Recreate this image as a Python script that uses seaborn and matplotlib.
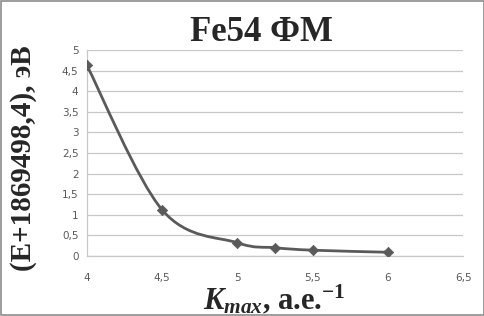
import matplotlib
matplotlib.use('Agg')

import numpy as np
import matplotlib.pyplot as plt
from matplotlib.path import Path
from matplotlib.patches import PathPatch, Rectangle
import seaborn as sns

# ==============================================================================
# 資料
# ==============================================================================
k_max = [4.0, 4.5, 5.0, 5.25, 5.5, 6.0]
energy = [4.63, 1.12, 0.32, 0.20, 0.14, 0.09]

x_ticks = [4, 4.5, 5, 5.5, 6, 6.5]
x_tick_labels = ['4', '4,5', '5', '5,5', '6', '6,5']
y_ticks = [0, 0.5, 1, 1.5, 2, 2.5, 3, 3.5, 4, 4.5, 5]
y_tick_labels = ['0', '0,5', '1', '1,5', '2', '2,5', '3', '3,5', '4', '4,5', '5']

title = 'Fe54 ФМ'
y_label = '(E+1869498,4), эВ'
x_label = r'$\mathit{K}_{\mathit{max}}$, а.е.$^{\mathbf{-1}}$'

# ==============================================================================
# 樣式
# ==============================================================================
sns.set_theme(style="whitegrid")
plt.rcParams['font.family'] = ['DejaVu Sans']
plt.rcParams['mathtext.fontset'] = 'custom'
plt.rcParams['mathtext.rm'] = 'Liberation Serif:bold'
plt.rcParams['mathtext.it'] = 'Liberation Serif:italic:bold'
plt.rcParams['mathtext.bf'] = 'Liberation Serif:bold'

line_color = '#5a5a5a'

fig = plt.figure(figsize=(4.85, 3.16), dpi=100)
ax = fig.add_axes([0.179, 0.190, 0.776, 0.652])

# 平滑曲線 (Excel 式 Bezier)
pts = np.column_stack([k_max, energy])
verts = [pts[0]]
codes = [Path.MOVETO]
n = len(pts)
for i in range(n - 1):
    p0 = pts[max(i - 1, 0)]
    p1 = pts[i]
    p2 = pts[i + 1]
    p3 = pts[min(i + 2, n - 1)]
    c1 = p1 + (p2 - p0) / 6
    c2 = p2 - (p3 - p1) / 6
    verts += [c1, c2, p2]
    codes += [Path.CURVE4] * 3
ax.add_patch(PathPatch(Path(verts, codes), facecolor='none',
                       edgecolor=line_color, linewidth=2, zorder=3))

sns.scatterplot(x=k_max, y=energy, marker='D', s=28, color=line_color,
                edgecolor=line_color, linewidth=0.5, zorder=4, ax=ax)

ax.set_xlim(4, 6.5)
ax.set_ylim(0, 5)
ax.set_xticks(x_ticks)
ax.set_xticklabels(x_tick_labels)
ax.set_yticks(y_ticks)
ax.set_yticklabels(y_tick_labels)
ax.tick_params(axis='both', labelsize=7.5, colors='#595959', length=0)
ax.tick_params(axis='x', pad=12)
ax.tick_params(axis='y', pad=6)

ax.set_facecolor('white')
ax.grid(False, axis='x')
ax.grid(True, axis='y', color='#c8c8c8', linewidth=0.9)
for side in ['top', 'right']:
    ax.spines[side].set_visible(False)
ax.spines['left'].set_color('#c8c8c8')
ax.spines['bottom'].set_color('#c8c8c8')
ax.spines['left'].set_linewidth(0.9)
ax.spines['bottom'].set_linewidth(0.9)

fig.text(0.54, 0.898, title, ha='center', va='center', fontsize=25,
         fontweight='bold', family='Liberation Serif')
fig.text(0.048, 0.50, y_label, ha='center', va='center', rotation=90,
         fontsize=21, fontweight='bold', family='Liberation Serif')
fig.text(0.565, 0.050, x_label, ha='center', va='center', fontsize=22,
         fontweight='bold', family='Liberation Serif')

fig.patches.append(Rectangle((0.002, 0.003), 0.995, 0.993, transform=fig.transFigure,
                             fill=False, edgecolor='#8c8c8c', linewidth=1.2))

fig.savefig('out.png', dpi=100)
